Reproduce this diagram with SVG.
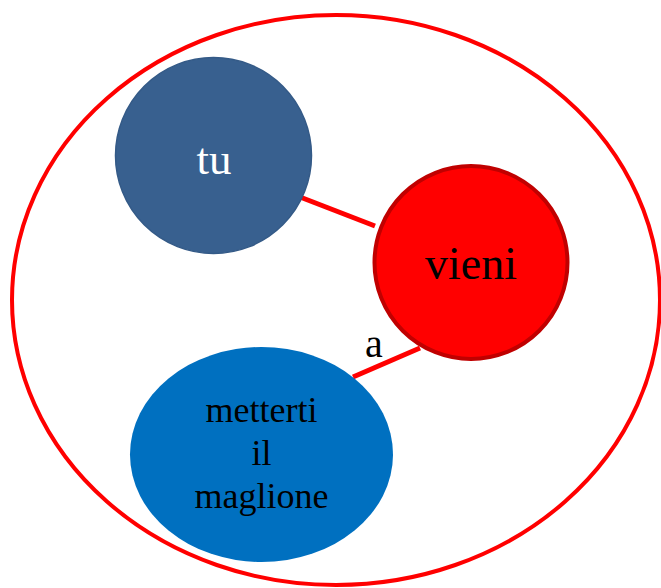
<svg xmlns="http://www.w3.org/2000/svg" width="661" height="588" viewBox="0 0 661 588">
<style>
.t{font-family:"Liberation Serif","Times New Roman",serif;text-anchor:middle}
.c{stroke:#ff0000;stroke-width:5;fill:none}
</style>
<rect width="661" height="588" fill="#ffffff"/>
<ellipse cx="336" cy="300" rx="324" ry="285" fill="none" stroke="#ff0000" stroke-width="4"/>
<g id="connectors">
<line class="c" x1="300" y1="197" x2="375" y2="226"/>
<line class="c" x1="353" y1="377" x2="420" y2="348"/>
<text class="t" x="374" y="357" font-size="40" fill="#000">a</text>
</g>
<g id="tu">
<circle cx="213.5" cy="155.5" r="98" fill="#38608f" stroke="#345a87" stroke-width="1.5"/>
<text class="t" x="214" y="174" font-size="45" fill="#ffffff">tu</text>
</g>
<g id="vieni">
<circle cx="471" cy="262.5" r="96.5" fill="#ff0000" stroke="#c00000" stroke-width="4"/>
<text class="t" x="471" y="279" font-size="46" fill="#000">vieni</text>
</g>
<g id="metterti">
<ellipse cx="261.5" cy="454.5" rx="131.5" ry="107.5" fill="#0070c0"/>
<text class="t" font-size="36" fill="#000"><tspan x="261.5" y="422">metterti</tspan><tspan x="261.5" y="465">il</tspan><tspan x="261.5" y="508">maglione</tspan></text>
</g>
</svg>
